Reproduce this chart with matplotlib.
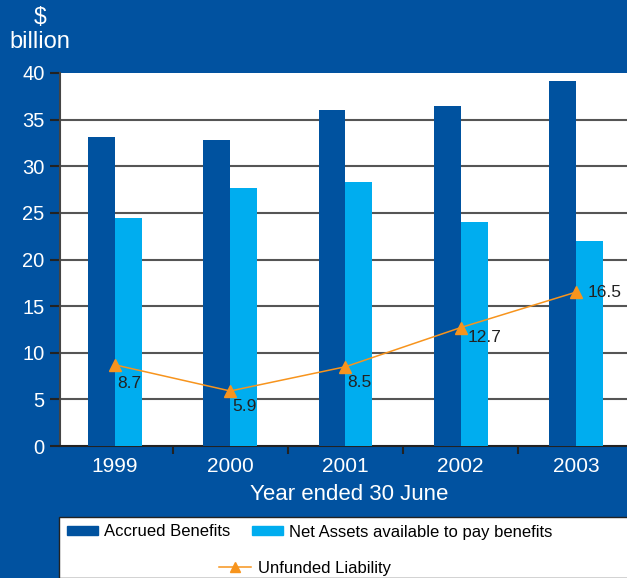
import numpy as np
import matplotlib.pyplot as plt
import matplotlib.patches as mpatches
from matplotlib.lines import Line2D

# data
years = ['1999', '2000', '2001', '2002', '2003']
accrued = [33.1, 32.8, 36.0, 36.5, 39.1]
net_assets = [24.5, 27.7, 28.3, 24.0, 22.0]
unfunded = [8.7, 5.9, 8.5, 12.7, 16.5]
yticks = [0, 5, 10, 15, 20, 25, 30, 35, 40]

bg = '#0152a0'
dark = '#00529f'
light = '#00adef'
orange = '#f7941d'
grid_col = '#555555'

plt.rcParams['font.family'] = ['Liberation Sans', 'DejaVu Sans']

W, H = 627, 578
fig = plt.figure(figsize=(W / 100, H / 100), dpi=100, facecolor=bg)

# axes placed in pixel units
left, right, top, bottom = 60, 627, 73, 446
ax = fig.add_axes([left / W, 1 - bottom / H, (right - left) / W, (bottom - top) / H])
ax.set_facecolor('white')

x = np.arange(len(years))
bw = 0.234
ax.bar(x - bw / 2, accrued, bw, color=dark, zorder=3)
ax.bar(x + bw / 2, net_assets, bw, color=light, zorder=3)
ax.plot(x, unfunded, color=orange, lw=1.1, marker='^', ms=8, zorder=4)

# value labels for the unfunded line
offs = [(2, -19), (2, -16), (2, -16), (7, -10), (12, 0)]
for xi, v, (dx, dy) in zip(x, unfunded, offs):
    ax.annotate(f'{v}', (xi, v), xytext=(dx, dy), textcoords='offset pixels',
                ha='left', va='center', fontsize=12.5, color='#222222', zorder=5)

ax.set_xlim(-0.477, -0.477 + (right - left) / 115.25)
ax.set_ylim(0, 40)
ax.set_yticks(yticks)
ax.set_yticklabels([str(t) for t in yticks], color='white', fontsize=14.5)
for t in yticks[1:-1]:
    ax.axhline(t, color=grid_col, lw=1.5, zorder=1)

ax.set_xticks(x)
ax.set_xticklabels(years, color='white', fontsize=15)
ax.tick_params(axis='x', length=0, pad=8)
ax.set_xticks(np.arange(len(years) - 1) + 0.5, minor=True)
ax.tick_params(axis='x', which='minor', length=6, width=1.5, color='#222222')
ax.tick_params(axis='y', length=7, width=1.5, color='#222222', pad=4)

ax.spines['top'].set_visible(False)
ax.spines['right'].set_visible(False)
ax.spines['left'].set_color('#444444')
ax.spines['left'].set_linewidth(1.5)
ax.spines['bottom'].set_color('#222222')
ax.spines['bottom'].set_linewidth(1.5)

fig.text(40 / W, 1 - 18 / H, '$', color='white', fontsize=16.5, ha='center', va='center')
fig.text(40 / W, 1 - 42 / H, 'billion', color='white', fontsize=17, ha='center', va='center')
fig.text(349 / W, 1 - 494 / H, 'Year ended 30 June', color='white', fontsize=16,
         ha='center', va='center')

# legend box
box = mpatches.Rectangle((59 / W, 0), (W - 59) / W + 0.01, (578 - 517) / H,
                         transform=fig.transFigure, facecolor='white',
                         edgecolor='#222222', lw=1, zorder=0)
fig.patches.append(box)

h1 = mpatches.Patch(color=dark, label='Accrued Benefits')
h2 = mpatches.Patch(color=light, label='Net Assets available to pay benefits')
h3 = Line2D([], [], color=orange, marker='^', ms=7, lw=1.1, label='Unfunded Liability')
fig.legend(handles=[h1, h2], ncol=2, loc='center', bbox_to_anchor=(310 / W, 1 - 532 / H),
           frameon=False, fontsize=12, handlelength=1.86, handleheight=0.42,
           columnspacing=1.3, handletextpad=0.36)
fig.legend(handles=[h3], loc='center', bbox_to_anchor=(305 / W, 1 - 568 / H),
           frameon=False, fontsize=12, handlelength=1.9, handletextpad=0.4)

fig.savefig('out.png', dpi=100, facecolor=bg)
